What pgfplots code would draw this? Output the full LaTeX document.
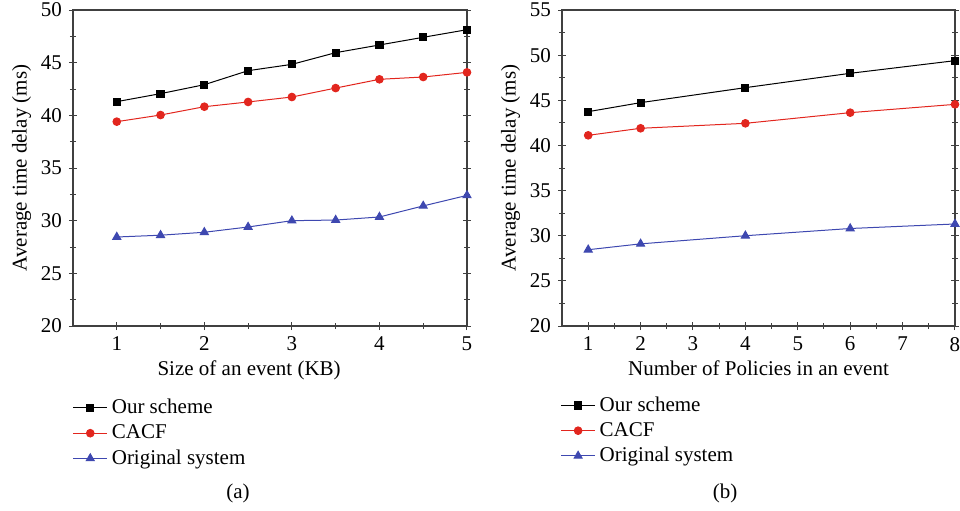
\documentclass[border=0pt]{standalone}
\usepackage{pgfplots}
\pgfplotsset{compat=1.18}
\usepackage{fontspec}
\setmainfont{Liberation Serif}
\definecolor{cred}{RGB}{226,38,30}
\definecolor{cblue}{RGB}{62,72,176}

\pgfplotsset{
  delay/.style={
    width=197pt, height=158pt, scale only axis,
    axis line style={black!75, line width=0.6pt},
    tick style={black!75, line width=0.5pt},
    tick align=center, major tick length=4pt, minor tick length=3pt,
    xtick pos=bottom, ytick pos=both,
    minor x tick num=1, minor y tick num=1,
    ymin=20, ylabel={Average time delay (ms)},
    ylabel style={yshift=-2pt},
    xlabel style={yshift=2pt},
    tick label style={font=\fontsize{10.5}{12}\selectfont},
    label style={font=\fontsize{10.5}{12}\selectfont},
    /pgf/number format/assume math mode=true,
    legend style={draw=none, fill=none, anchor=north west,
      font=\fontsize{10.5}{12}\selectfont, row sep=0pt,
      legend cell align=left},
    legend cell align=left,
    every axis plot/.append style={line width=0.5pt},
  },
  sch/.style={black, mark=square*, mark size=1.8pt, mark options={solid}},
  cacf/.style={cred, mark=*, mark size=1.9pt},
  orig/.style={cblue, mark=triangle*, mark size=2.3pt},
}

\begin{document}
\begin{tikzpicture}
\useasboundingbox (-36.5pt,-92pt) rectangle (443.5pt,163pt);

\begin{axis}[delay, at={(0,0)}, anchor=south west,
  xmin=0.5, xmax=5, xtick={1,2,3,4,5},
  ymax=50, ytick={20,25,30,35,40,45,50},
  xlabel={Size of an event (KB)},
  xlabel style={at={(ticklabel cs:0.447)}},
  legend style={at={(-0.017,-0.205)}}]
\addplot[sch] coordinates {(1,41.3)(1.5,42.06)(2,42.91)(2.5,44.24)(3,44.84)(3.5,45.95)(4,46.68)(4.5,47.41)(5,48.13)};
\addplot[cacf] coordinates {(1,39.40)(1.5,40.03)(2,40.82)(2.5,41.27)(3,41.74)(3.5,42.59)(4,43.42)(4.5,43.64)(5,44.08)};
\addplot[orig] coordinates {(1,28.45)(1.5,28.62)(2,28.9)(2.5,29.4)(3,30.0)(3.5,30.06)(4,30.35)(4.5,31.4)(5,32.4)};
\legend{Our scheme, CACF, Original system}
\end{axis}

\begin{axis}[delay, at={(244.5pt,0)}, anchor=south west,
  width=196.5pt,
  xmin=0.5, xmax=8, xtick={1,2,3,4,5,6,7,8},
  ymax=55, ytick={20,25,30,35,40,45,50,55},
  xlabel={Number of Policies in an event},
  legend style={at={(-0.02,-0.197)}}]
\addplot[sch] coordinates {(1,43.74)(2,44.74)(4,46.40)(6,47.99)(8,49.39)};
\addplot[cacf] coordinates {(1,41.12)(2,41.90)(4,42.45)(6,43.63)(8,44.55)};
\addplot[orig] coordinates {(1,28.45)(2,29.1)(4,30.0)(6,30.8)(8,31.3)};
\legend{Our scheme, CACF, Original system}
\end{axis}

\node[font=\fontsize{10.5}{12}\selectfont] at (82.5pt,-83.5pt) {(a)};
\node[font=\fontsize{10.5}{12}\selectfont] at (326pt,-83.5pt) {(b)};
\end{tikzpicture}
\end{document}
